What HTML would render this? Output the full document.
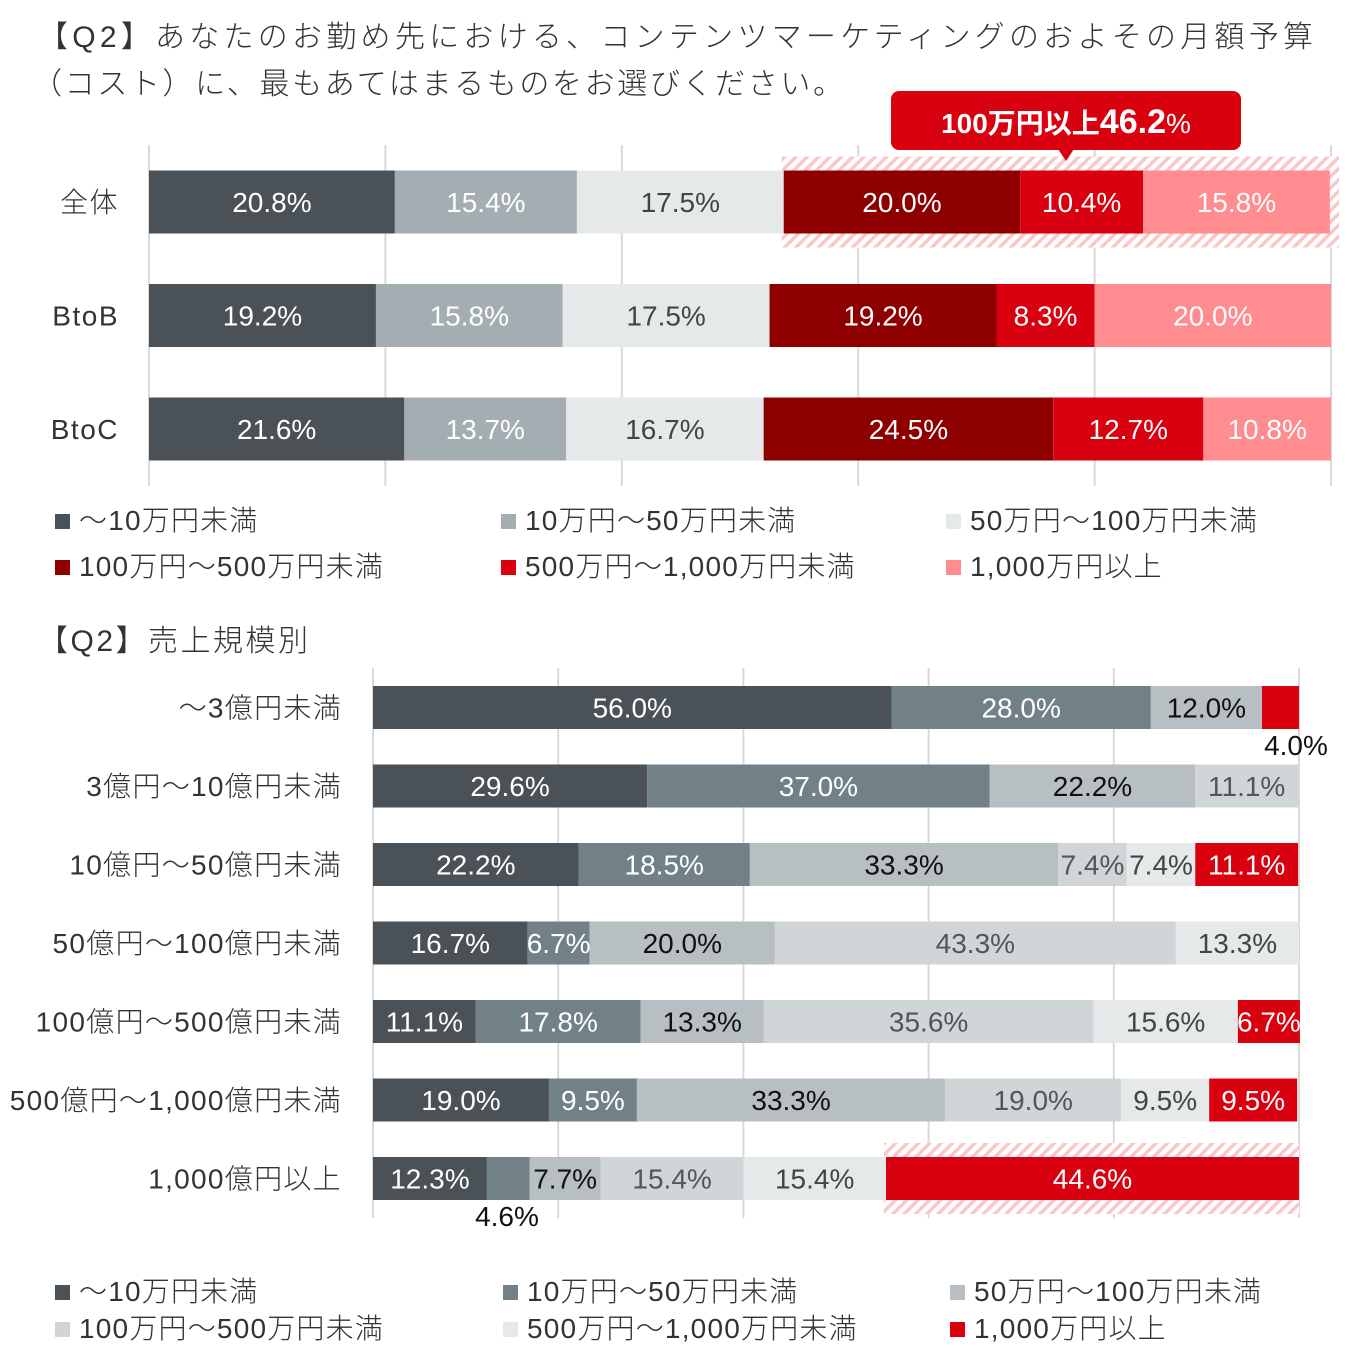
<!DOCTYPE html>
<html><head><meta charset="utf-8"><style>
html,body{margin:0;padding:0;background:#fff;}
svg{display:block;font-family:"Liberation Sans","Noto Sans CJK JP",sans-serif;}
</style></head><body>
<svg id="c" width="1347" height="1350" viewBox="0 0 1347 1350" xmlns="http://www.w3.org/2000/svg">
<defs>
<pattern id="hatch" width="8" height="8" patternUnits="userSpaceOnUse" patternTransform="rotate(45)">
<rect width="8" height="8" fill="#fff"/><rect width="3.5" height="8" fill="#f9c7c9"/>
</pattern>
</defs>
<g font-size="30" fill="#333" font-weight="300">
<text x="38" y="47" textLength="1275" lengthAdjust="spacing">【Q2】あなたのお勤め先における、コンテンツマーケティングのおよその月額予算</text>
<text x="32" y="94" textLength="811" lengthAdjust="spacing">（コスト）に、最もあてはまるものをお選びください。</text>
</g>
<text x="38" y="651" font-size="30" fill="#333" font-weight="300" textLength="270" lengthAdjust="spacing">【Q2】売上規模別</text>
<g id="top"></g>
<g id="bottom"></g>
<g>
<rect x="891" y="91" width="350" height="59" rx="8" fill="#d9000f"/>
<polygon points="1058,149 1074,149 1066,161" fill="#d9000f"/>
<text x="1066" y="133" text-anchor="middle" fill="#fff" font-weight="bold"><tspan font-size="28">100万円以上</tspan><tspan font-size="34">46.2</tspan><tspan font-size="28" font-weight="normal">%</tspan></text>
</g>
</svg>
<script>
// Top chart data
const topCats = ["全体","BtoB","BtoC"];
const topS1 = [20.8,19.2,21.6];
const topS2 = [15.4,15.8,13.7];
const topS3 = [17.5,17.5,16.7];
const topS4 = [20.0,19.2,24.5];
const topS5 = [10.4,8.3,12.7];
const topS6 = [15.8,20.0,10.8];
const topLegend = ["～10万円未満","10万円～50万円未満","50万円～100万円未満","100万円～500万円未満","500万円～1,000万円未満","1,000万円以上"];
// Bottom chart data
const botCats = ["～3億円未満","3億円～10億円未満","10億円～50億円未満","50億円～100億円未満","100億円～500億円未満","500億円～1,000億円未満","1,000億円以上"];
const botS1 = [56.0,29.6,22.2,16.7,11.1,19.0,12.3];
const botS2 = [28.0,37.0,18.5,6.7,17.8,9.5,4.6];
const botS3 = [12.0,22.2,33.3,20.0,13.3,33.3,7.7];
const botS4 = [0,11.1,7.4,43.3,35.6,19.0,15.4];
const botS5 = [0,0,7.4,13.3,15.6,9.5,15.4];
const botS6 = [4.0,0,11.1,0,6.7,9.5,44.6];
const botLegend = ["～10万円未満","10万円～50万円未満","50万円～100万円未満","100万円～500万円未満","500万円～1,000万円未満","1,000万円以上"];

const NS="http://www.w3.org/2000/svg";
function mk(tag,attrs,parent){const e=document.createElementNS(NS,tag);for(const k in attrs)e.setAttribute(k,attrs[k]);parent.appendChild(e);return e;}

function drawChart(g,cats,series,opt){
  const xs=v=>opt.x0+v/100*(opt.x1-opt.x0);
  const yc=i=>opt.y0+i*opt.pitch;
  for(let k=0;k<=5;k++){
    const gl=mk('line',{x1:xs(k*20),x2:xs(k*20),y1:opt.gy0,y2:opt.gy1,stroke:'#d9d9d9','stroke-width':2},g);
    
    
  }
  if(opt.hatch){
    opt.hatch.forEach(h=>{
      const i=h.row;let s=0;for(let j=0;j<h.from;j++)s+=series[j][i];
      const hr=mk('rect',{x:xs(s)-2,y:yc(i)-opt.bh/2-14,width:(xs(100)-xs(s)+2)+(h.extra||0),height:opt.bh+28,fill:'url(#hatch)'},g);
      
      
    });
  }
  cats.forEach((c,i)=>{
    const t=mk('text',{x:opt.labelX,y:yc(i)+10,'text-anchor':'end','font-size':28,fill:'#333','font-weight':300,'letter-spacing':opt.ls},g);
    t.textContent=c;
    
    
    let cum=0;
    series.forEach((s,j)=>{
      const v=s[i];if(!v){return;}
      const x=xs(cum),w=xs(cum+v)-x;
      const r=mk('rect',{x:x,y:yc(i)-opt.bh/2,width:w,height:opt.bh,fill:opt.colors[j]},g);
      
      
      const isBelow=opt.below&&opt.below(i,j);
      let lx=x+w/2,ly=yc(i)+10;
      if(isBelow){ly=yc(i)+opt.bh/2+26;lx=opt.belowX(i,j,x,w);}
      const lt=mk('text',{x:lx,y:ly,'text-anchor':'middle','font-size':28,fill:isBelow?'#111':opt.textColors[j]},g);
      lt.textContent=v.toFixed(1)+'%';
      
      
      cum+=v;
    });
  });
}
function drawLegend(g,labels,colors,cols,rows){
  labels.forEach((l,i)=>{
    const x=cols[i%3],y=rows[Math.floor(i/3)];
    const r=mk('rect',{x:x,y:y-16,width:15,height:15,fill:colors[i]},g);
    
    
    const t=mk('text',{x:x+24,y:y,'font-size':28,fill:'#333','font-weight':300,'letter-spacing':1.2},g);
    t.textContent=l;
    
    
  });
}
const topColors=['#4b5257','#a4adb1','#e6e9ea','#8e0000','#d9000f','#ff8c8f'];
const topText=['#fff','#fff','#444','#fff','#fff','#fff'];
drawChart(document.getElementById('top'),topCats,[topS1,topS2,topS3,topS4,topS5,topS6],{
  x0:149,x1:1331,y0:202,pitch:113.5,bh:63,gy0:145,gy1:486,labelX:119,colors:topColors,textColors:topText,ls:1.5,
  hatch:[{row:0,from:3,extra:8}]
});
drawLegend(document.getElementById('top'),topLegend,topColors,[55,501,946],[530,576]);
const botColors=['#4a5258','#728188','#b7bfc2','#d0d5d7','#e6e9ea','#d9000f'];
const botText=['#fff','#fff','#111','#555','#444','#fff'];
drawChart(document.getElementById('bottom'),botCats,[botS1,botS2,botS3,botS4,botS5,botS6],{
  x0:373,x1:1299,y0:707.5,pitch:78.5,bh:43,gy0:668,gy1:1218,labelX:342,colors:botColors,textColors:botText,ls:1.3,
  hatch:[{row:6,from:5}],
  below:(i,j)=>(i===0&&j===5)||(i===6&&j===1),
  belowX:(i,j,x,w)=>i===0?1296:507
});
drawLegend(document.getElementById('bottom'),botLegend,botColors,[55,503,950],[1301,1338]);
</script>
</body></html>
